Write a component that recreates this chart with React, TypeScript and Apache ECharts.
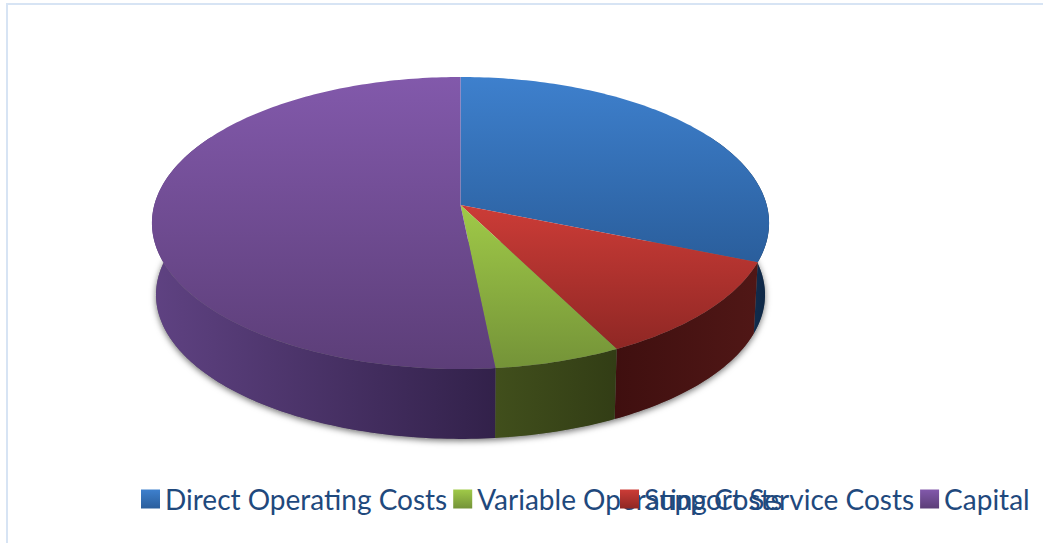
import React, { useEffect, useRef } from "react";
import * as echarts from "echarts";

// Share of total cost per category, in percent
const categories = [
  "Direct Operating Costs",
  "Support Service Costs",
  "Variable Operating Costs",
  "Capital",
];
const shares = [31.2, 11.3, 5.9, 51.6];

// Face colours: [upper, lower] of each top face
const faceColors = [
  ["#3e80cd", "#2a5e9c"],
  ["#cc3c37", "#8f2724"],
  ["#a0ca48", "#749338"],
  ["#8259ab", "#5c3e78"],
];
// Rim colours: [left, right] of each side wall
const wallColors = [
  ["#1c3f68", "#0d2644"],
  ["#3f0f0f", "#501716"],
  ["#414f1c", "#323d15"],
  ["#5f4282", "#32214a"],
];

// Disc projection: a tilted circle seen in perspective, so the centre sits above the ellipse middle
const CX = 460.5;
const APEX_Y = 205;
const SCALE_X = 306.2;
const SCALE_Y = 143.8;
const PERSPECTIVE = 0.1233;
const BASE_SHRINK = 0.987;
const BASE_DROP = 72;

type Pt = [number, number];

const topRim = (deg: number): Pt => {
  const t = (deg * Math.PI) / 180;
  const u = Math.sin(t);
  const v = -Math.cos(t);
  const w = 1 - PERSPECTIVE * v;
  return [CX + (SCALE_X * u) / w, APEX_Y + (SCALE_Y * v) / w];
};

const baseRim = (deg: number): Pt => {
  const [x, y] = topRim(deg);
  return [
    CX + (x - CX) * BASE_SHRINK,
    APEX_Y + (y - APEX_Y) * BASE_SHRINK + BASE_DROP,
  ];
};

const arc = (from: number, to: number, rim: (d: number) => Pt): Pt[] => {
  const pts: Pt[] = [];
  const steps = Math.max(2, Math.ceil(Math.abs(to - from)));
  for (let i = 0; i <= steps; i++) pts.push(rim(from + ((to - from) * i) / steps));
  return pts;
};

const total = shares.reduce((a, b) => a + b, 0);
const sliceAngles = (index: number): [number, number] => {
  let before = 0;
  for (let i = 0; i < index; i++) before += shares[i];
  return [(before / total) * 360, ((before + shares[index]) / total) * 360];
};

const vertical = (pair: string[]) =>
  new echarts.graphic.LinearGradient(0, 0, 0, 1, [
    { offset: 0, color: pair[0] },
    { offset: 1, color: pair[1] },
  ]);
const horizontal = (pair: string[]) =>
  new echarts.graphic.LinearGradient(0, 0, 1, 0, [
    { offset: 0, color: pair[0] },
    { offset: 1, color: pair[1] },
  ]);

const legendBlock = (left: number, indexes: number[]) => ({
  left,
  top: 480,
  orient: "vertical" as const,
  selectedMode: false,
  itemWidth: 19,
  itemHeight: 19,
  itemGap: 6,
  textStyle: { fontFamily: "Lato", fontSize: 28, color: "#1f497d" },
  data: indexes.map((i) => ({
    name: categories[i],
    icon: "rect",
    itemStyle: { color: vertical(faceColors[i]) },
  })),
});

export default function App() {
  const ref = useRef<HTMLDivElement>(null);

  useEffect(() => {
    const chart = echarts.init(ref.current!, undefined, { renderer: "svg" });
    chart.setOption({
      animation: false,
      backgroundColor: "#ffffff",
      graphic: [
        {
          type: "rect",
          z: -1,
          silent: true,
          shape: { x: 7, y: 4, width: 1100, height: 600 },
          style: { fill: "none", stroke: "#d7e4f4", lineWidth: 2 },
        },
      ],
      legend: [legendBlock(136, [0, 2]), legendBlock(615, [1, 3])],
      series: [
        {
          // soft shadow under the front of the disc
          type: "custom",
          name: "shadow",
          coordinateSystem: "none",
          silent: true,
          z: 1,
          data: [[total]],
          renderItem: () => ({
            type: "polygon",
            shape: { points: arc(75, 285, baseRim) },
            style: {
              fill: "#777777",
              shadowBlur: 6,
              shadowColor: "rgba(0,0,0,0.55)",
              shadowOffsetY: 2,
              shadowOffsetX: 0,
            },
          }),
        },
        {
          // side walls, one per slice
          type: "custom",
          name: "walls",
          coordinateSystem: "none",
          silent: true,
          z: 2,
          data: shares.map((s) => [s]),
          renderItem: (params: any) => {
            const [a, b] = sliceAngles(params.dataIndex);
            const from = Math.max(a, 60);
            const to = Math.min(b, 300);
            return {
              type: "polygon",
              shape: {
                points: [...arc(from, to, topRim), ...arc(to, from, baseRim)],
              },
              style: { fill: horizontal(wallColors[params.dataIndex]) },
            };
          },
        },
        // top faces, one named series per category
        ...categories.map((name, i) => ({
          type: "custom",
          name,
          coordinateSystem: "none",
          silent: true,
          z: 3,
          data: [[shares[i]]],
          renderItem: () => {
            const [a, b] = sliceAngles(i);
            return {
              type: "polygon",
              shape: { points: [[CX, APEX_Y] as Pt, ...arc(a, b, topRim)] },
              style: { fill: vertical(faceColors[i]) },
            };
          },
        })),
      ],
    });
    return () => chart.dispose();
  }, []);

  return (
    <div
      ref={ref}
      style={{ position: "absolute", left: 0, top: 0, width: 1043, height: 543 }}
    />
  );
}
